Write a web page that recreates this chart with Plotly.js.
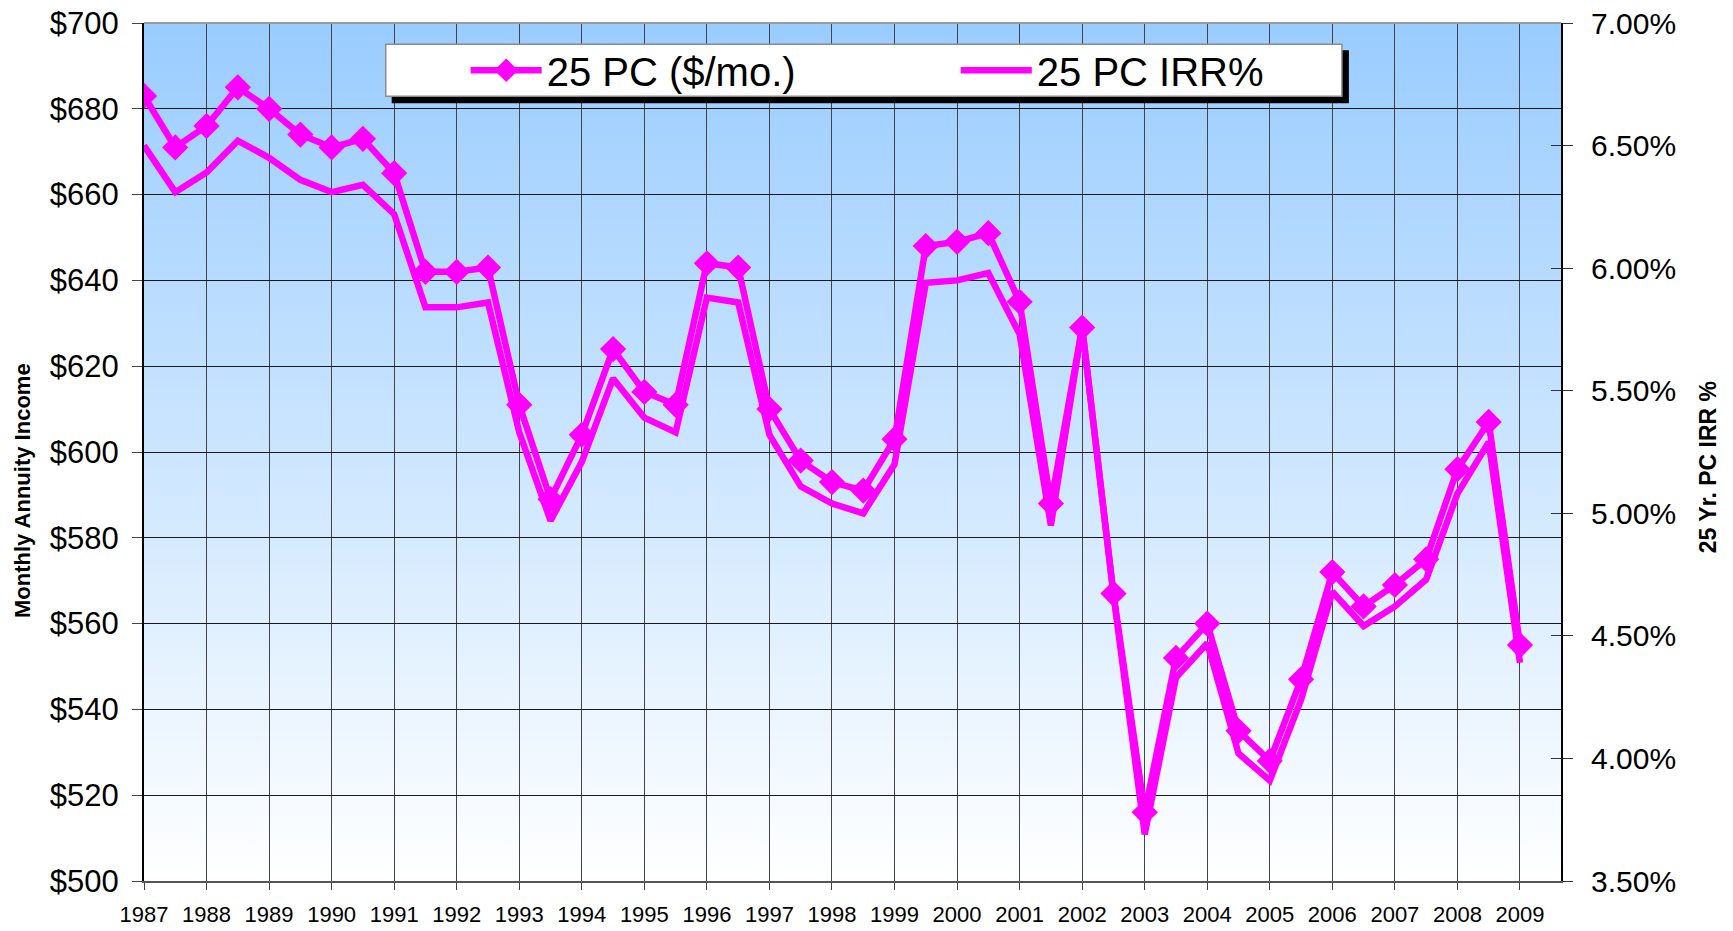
<!DOCTYPE html>
<html>
<head>
<meta charset="utf-8">
<script src="https://cdn.plot.ly/plotly-3.0.1.min.js"></script>
<style>
  html, body { margin: 0; padding: 0; background: #ffffff; }
  #chart { width: 1733px; height: 931px; }
</style>
</head>
<body>
<div id="chart"></div>
<script>
// ---- data ----
const periods = [
  1987, 1987.5, 1988, 1988.5, 1989, 1989.5, 1990, 1990.5, 1991, 1991.5,
  1992, 1992.5, 1993, 1993.5, 1994, 1994.5, 1995, 1995.5, 1996, 1996.5,
  1997, 1997.5, 1998, 1998.5, 1999, 1999.5, 2000, 2000.5, 2001, 2001.5,
  2002, 2002.5, 2003, 2003.5, 2004, 2004.5, 2005, 2005.5, 2006, 2006.5,
  2007, 2007.5, 2008, 2008.5, 2009
];
const monthlyIncome = [
  683, 671, 676, 685, 680, 674, 671, 673, 665, 642,
  642, 643, 611, 589, 604, 624, 614, 611, 644, 643,
  610, 598, 593, 591, 603, 648, 649, 651, 635, 588,
  629, 567, 516, 552, 560, 535, 528, 547, 572, 564,
  569, 575, 596, 607, 555
];
const irrPercent = [
  6.50, 6.31, 6.39, 6.52, 6.45, 6.36, 6.31, 6.34, 6.22, 5.84,
  5.84, 5.86, 5.33, 4.97, 5.21, 5.55, 5.39, 5.33, 5.88, 5.86,
  5.32, 5.11, 5.04, 5.00, 5.20, 5.94, 5.95, 5.98, 5.73, 4.95,
  5.76, 4.67, 3.69, 4.33, 4.47, 4.02, 3.91, 4.24, 4.68, 4.54,
  4.62, 4.73, 5.08, 5.29, 4.39
];
const yearTicks = [
  1987, 1988, 1989, 1990, 1991, 1992, 1993, 1994, 1995, 1996, 1997, 1998,
  1999, 2000, 2001, 2002, 2003, 2004, 2005, 2006, 2007, 2008, 2009
];
const seriesNames = ['25 PC ($/mo.)', '25 PC IRR%'];
const leftTitle = 'Monthly Annuity Income';
const rightTitle = '25 Yr. PC IRR %';

// ---- styling ----
const MAGENTA = '#FF00FF';
const FONT = 'Liberation Sans, Arial, Helvetica, sans-serif';

const gradientSvg =
  "<svg xmlns='http://www.w3.org/2000/svg' width='100' height='100' viewBox='0 0 100 100' preserveAspectRatio='none'>" +
  "<defs><linearGradient id='g' x1='0' y1='0' x2='0' y2='1'>" +
  "<stop offset='0' stop-color='#99CCFF'/><stop offset='1' stop-color='#FFFFFF'/>" +
  "</linearGradient></defs><rect x='0' y='0' width='100' height='100' fill='url(#g)'/></svg>";
const gradientUri = 'data:image/svg+xml;charset=utf-8,' + encodeURIComponent(gradientSvg);

const traces = [
  {
    x: periods, y: monthlyIncome, name: seriesNames[0],
    type: 'scatter', mode: 'lines+markers',
    line: { color: MAGENTA, width: 6.5 },
    marker: { symbol: 'diamond', size: 18, color: MAGENTA, line: { color: MAGENTA, width: 2 } },
    xaxis: 'x', yaxis: 'y', legend: 'legend'
  },
  {
    x: periods, y: irrPercent, name: seriesNames[1],
    type: 'scatter', mode: 'lines',
    line: { color: MAGENTA, width: 6.5 },
    xaxis: 'x', yaxis: 'y2', legend: 'legend2'
  }
];

const layout = {
  width: 1733, height: 931,
  margin: { l: 144, r: 172, t: 23, b: 50, pad: 0 },
  paper_bgcolor: '#FFFFFF',
  plot_bgcolor: 'rgba(0,0,0,0)',
  font: { family: FONT, color: '#000000' },
  showlegend: true,
  xaxis: {
    type: 'linear',
    range: [1987, 2009.656],
    tickmode: 'array', tickvals: yearTicks, ticktext: yearTicks.map(String),
    ticks: 'outside', ticklen: 7, tickwidth: 1, tickcolor: '#444444',
    tickfont: { family: FONT, size: 22, color: '#000000' },
    ticklabelstandoff: 6,
    showgrid: true, gridcolor: '#444444', gridwidth: 1,
    showline: true, linecolor: '#555555', linewidth: 2,
    zeroline: false, fixedrange: true
  },
  yaxis: {
    range: [500, 700], dtick: 20, tick0: 500,
    tickprefix: '$', tickformat: 'd',
    ticks: 'outside', ticklen: 10, tickwidth: 1, tickcolor: '#444444',
    tickfont: { family: FONT, size: 31, color: '#000000' },
    ticklabelstandoff: 7,
    showgrid: true, gridcolor: '#1a1a1a', gridwidth: 1,
    showline: true, linecolor: '#000000', linewidth: 2,
    zeroline: false, fixedrange: true
  },
  yaxis2: {
    overlaying: 'y', side: 'right',
    range: [3.5, 7.0], dtick: 0.5, tick0: 3.5,
    ticksuffix: '%', tickformat: '.2f',
    ticks: 'outside', ticklen: 10, tickwidth: 1, tickcolor: '#333333',
    tickfont: { family: FONT, size: 30, color: '#000000' },
    ticklabelstandoff: 12,
    showgrid: false,
    showline: true, linecolor: '#000000', linewidth: 2,
    zeroline: false, fixedrange: true
  },
  yaxis3: {
    overlaying: 'y', side: 'right',
    range: [3.5, 7.0], dtick: 0.5, tick0: 3.5,
    ticks: 'inside', ticklen: 10, tickwidth: 1, tickcolor: '#333333',
    showticklabels: false, showgrid: false, showline: false,
    zeroline: false, fixedrange: true
  },
  legend: {
    orientation: 'h', x: 0.2270, xanchor: 'left', y: 0.9449, yanchor: 'middle',
    bgcolor: 'rgba(0,0,0,0)', borderwidth: 0,
    itemwidth: 71,
    font: { family: FONT, size: 40, color: '#000000' }
  },
  legend2: {
    orientation: 'h', x: 0.5729, xanchor: 'left', y: 0.9449, yanchor: 'middle',
    bgcolor: 'rgba(0,0,0,0)', borderwidth: 0,
    itemwidth: 71,
    font: { family: FONT, size: 40, color: '#000000' }
  },
  annotations: [
    { text: '<b>' + leftTitle + '</b>', xref: 'paper', yref: 'paper', x: -0.0861, y: 0.4557,
      xanchor: 'center', yanchor: 'middle', textangle: -90, showarrow: false,
      font: { family: FONT, size: 22, color: '#000000' } },
    { text: '<b>' + rightTitle + '</b>', xref: 'paper', yref: 'paper', x: 1.1035, y: 0.4819,
      xanchor: 'center', yanchor: 'middle', textangle: -90, showarrow: false,
      font: { family: FONT, size: 23, color: '#000000' } }
  ],
  images: [{
    source: gradientUri, xref: 'paper', yref: 'paper',
    x: 0, y: 1, sizex: 1, sizey: 1, xanchor: 'left', yanchor: 'top',
    sizing: 'stretch', layer: 'below'
  }],
  shapes: [
    { type: 'line', xref: 'paper', yref: 'paper', x0: 0, x1: 1, y0: 1, y1: 1,
      line: { color: '#9a9a9a', width: 2 }, layer: 'above' },
    { type: 'rect', xref: 'paper', yref: 'paper', x0: 0.1748, x1: 0.8503, y0: 0.9064, y1: 0.9682,
      fillcolor: '#000000', line: { width: 0 }, layer: 'above' },
    { type: 'rect', xref: 'paper', yref: 'paper', x0: 0.1706, x1: 0.8454, y0: 0.9146, y1: 0.9752,
      fillcolor: '#FFFFFF', line: { color: '#8c8c8c', width: 1.5 }, layer: 'above' }
  ]
};

traces.push({ x: [periods[0]], y: [irrPercent[0]], yaxis: 'y3', xaxis: 'x', mode: 'markers',
  marker: { opacity: 0 }, showlegend: false, hoverinfo: 'skip' });

Plotly.newPlot('chart', traces, layout, { staticPlot: true, displayModeBar: false });
</script>
</body>
</html>
